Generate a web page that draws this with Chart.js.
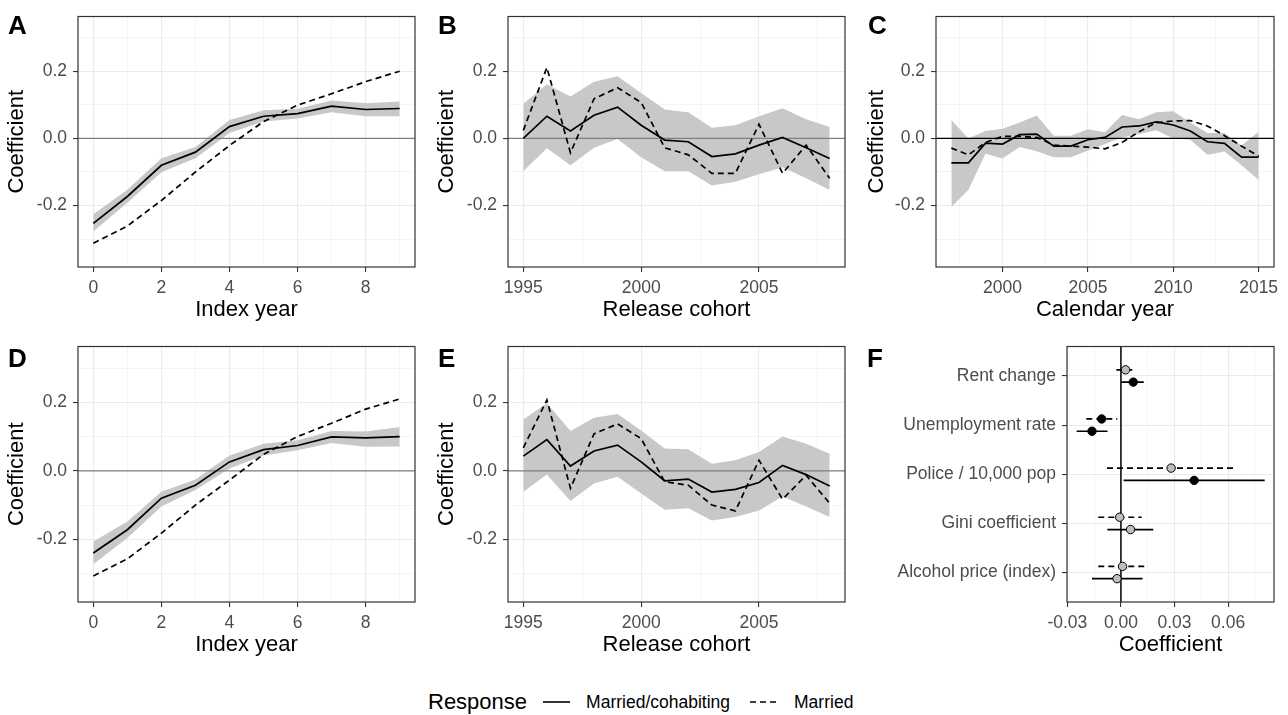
<!DOCTYPE html>
<html>
<head>
<meta charset="utf-8">
<script src="https://cdn.jsdelivr.net/npm/chart.js@4.4.1/dist/chart.umd.min.js"></script>
<style>
  body { margin: 0; background: #fff; font-family: "Liberation Sans", Arial, sans-serif; }
  #page { position: relative; width: 1288px; height: 715px; overflow: hidden; }
  canvas { position: absolute; }
  .tag { position: absolute; font-weight: bold; font-size: 26px; line-height: 26px; color: #000; }
  #legend { position: absolute; left: 428px; top: 690px; height: 24px; display: flex; align-items: center; color: #000; }
  #legend .ltitle { font-size: 22px; margin-right: 16px; }
  #legend .item { font-size: 17.5px; }
  #legend svg { display: block; }
</style>
</head>
<body>
<div id="page">
  <canvas id="chartA" width="430" height="327" style="left:0;top:0"></canvas>
  <canvas id="chartB" width="430" height="327" style="left:430px;top:0"></canvas>
  <canvas id="chartC" width="428" height="327" style="left:860px;top:0"></canvas>
  <canvas id="chartD" width="430" height="332" style="left:0;top:330px"></canvas>
  <canvas id="chartE" width="430" height="332" style="left:430px;top:330px"></canvas>
  <canvas id="chartF" width="428" height="332" style="left:860px;top:330px"></canvas>

  <div class="tag" style="left:8px;top:12px">A</div>
  <div class="tag" style="left:438px;top:12px">B</div>
  <div class="tag" style="left:868px;top:12px">C</div>
  <div class="tag" style="left:8px;top:345px">D</div>
  <div class="tag" style="left:438px;top:345px">E</div>
  <div class="tag" style="left:867px;top:345px">F</div>

  <div id="legend">
    <span class="ltitle">Response</span>
    <svg width="27" height="10" style="margin-right:16px"><line x1="0" y1="5" x2="27" y2="5" stroke="#000" stroke-width="1.6"/></svg>
    <span class="item" style="margin-right:20px">Married/cohabiting</span>
    <svg width="27" height="10" style="margin-right:17px"><line x1="0" y1="5" x2="27" y2="5" stroke="#000" stroke-width="1.6" stroke-dasharray="6 4"/></svg>
    <span class="item">Married</span>
  </div>
</div>

<script>
// ---- data ----
const indexYear = [0, 1, 2, 3, 4, 5, 6, 7, 8, 9];
const aCohab     = [-0.253, -0.173, -0.080, -0.041, 0.035, 0.066, 0.074, 0.096, 0.086, 0.089];
const aCohabLow  = [-0.277, -0.192, -0.101, -0.059, 0.016, 0.050, 0.059, 0.078, 0.066, 0.066];
const aCohabHigh = [-0.226, -0.153, -0.059, -0.026, 0.055, 0.084, 0.088, 0.113, 0.105, 0.110];
const aMarried   = [-0.312, -0.261, -0.185, -0.100, -0.021, 0.050, 0.099, 0.133, 0.169, 0.200];

const cohort = [1995, 1996, 1997, 1998, 1999, 2000, 2001, 2002, 2003, 2004, 2005, 2006, 2007, 2008];
const bCohab     = [0.000, 0.066, 0.022, 0.069, 0.093, 0.039, -0.005, -0.010, -0.054, -0.046, -0.020, 0.003, -0.028, -0.060];
const bCohabLow  = [-0.098, -0.029, -0.080, -0.028, -0.002, -0.056, -0.098, -0.098, -0.140, -0.129, -0.107, -0.086, -0.119, -0.154];
const bCohabHigh = [0.103, 0.161, 0.125, 0.169, 0.185, 0.135, 0.086, 0.078, 0.032, 0.039, 0.066, 0.090, 0.057, 0.034];
const bMarried   = [0.024, 0.211, -0.043, 0.118, 0.151, 0.107, -0.028, -0.049, -0.104, -0.104, 0.042, -0.104, -0.020, -0.119];

const calYear = [1997, 1998, 1999, 2000, 2001, 2002, 2003, 2004, 2005, 2006, 2007, 2008, 2009, 2010, 2011, 2012, 2013, 2014, 2015];
const cCohab     = [-0.073, -0.073, -0.014, -0.017, 0.011, 0.013, -0.023, -0.023, -0.004, 0.003, 0.034, 0.037, 0.049, 0.040, 0.022, -0.010, -0.015, -0.056, -0.056];
const cCohabLow  = [-0.204, -0.153, -0.046, -0.060, -0.026, -0.038, -0.056, -0.056, -0.036, -0.017, 0.003, 0.013, 0.024, 0.000, -0.004, -0.049, -0.039, -0.080, -0.124];
const cCohabHigh = [0.055, 0.000, 0.022, 0.029, 0.047, 0.068, 0.008, 0.008, 0.027, 0.018, 0.070, 0.057, 0.078, 0.081, 0.047, 0.016, 0.016, -0.021, 0.020];
const cMarried   = [-0.029, -0.049, -0.012, 0.006, 0.006, 0.003, -0.020, -0.023, -0.026, -0.031, -0.012, 0.020, 0.047, 0.052, 0.053, 0.037, 0.008, -0.023, -0.053];

const dCohab     = [-0.240, -0.172, -0.080, -0.042, 0.026, 0.062, 0.074, 0.099, 0.096, 0.100];
const dCohabLow  = [-0.273, -0.196, -0.104, -0.056, 0.007, 0.045, 0.060, 0.081, 0.070, 0.071];
const dCohabHigh = [-0.206, -0.148, -0.061, -0.025, 0.045, 0.079, 0.089, 0.116, 0.115, 0.128];
const dMarried   = [-0.307, -0.257, -0.182, -0.100, -0.027, 0.048, 0.100, 0.139, 0.180, 0.210];

const eCohab     = [0.043, 0.091, 0.014, 0.058, 0.075, 0.026, -0.029, -0.024, -0.062, -0.054, -0.034, 0.016, -0.011, -0.044];
const eCohabLow  = [-0.061, -0.011, -0.088, -0.037, -0.017, -0.066, -0.114, -0.109, -0.145, -0.135, -0.116, -0.075, -0.104, -0.135];
const eCohabHigh = [0.150, 0.197, 0.116, 0.155, 0.166, 0.118, 0.065, 0.063, 0.021, 0.031, 0.055, 0.100, 0.079, 0.050];
const eMarried   = [0.067, 0.207, -0.051, 0.108, 0.137, 0.094, -0.032, -0.042, -0.100, -0.117, 0.031, -0.083, -0.013, -0.095];

const covariates   = ['Rent change', 'Unemployment rate', 'Police / 10,000 pop', 'Gini coefficient', 'Alcohol price (index)'];
const fMarried     = [0.0026, -0.0108, 0.0281, -0.0007, 0.0009];
const fMarriedLow  = [-0.0026, -0.0194, -0.0078, -0.0127, -0.0127];
const fMarriedHigh = [0.0084, -0.0020, 0.0641, 0.0116, 0.0138];
const fCohab       = [0.0069, -0.0162, 0.0410, 0.0054, -0.0022];
const fCohabLow    = [0.0002, -0.0248, 0.0015, -0.0076, -0.0162];
const fCohabHigh   = [0.0128, -0.0075, 0.0805, 0.0181, 0.0121];

// gridlines (major ones get a label)
const yGrid  = [-0.3, -0.2, -0.1, 0, 0.1, 0.2, 0.3];
const yMajor = [-0.2, 0, 0.2];
const idxGrid = [0, 1, 2, 3, 4, 5, 6, 7, 8, 9];
const idxMajor = [0, 2, 4, 6, 8];
const cohortGrid = [1995, 1997.5, 2000, 2002.5, 2005, 2007.5];
const cohortMajor = [1995, 2000, 2005];
const calGrid = [1997.5, 2000, 2002.5, 2005, 2007.5, 2010, 2012.5, 2015];
const calMajor = [2000, 2005, 2010, 2015];
const fGrid = [-0.03, -0.015, 0, 0.015, 0.03, 0.045, 0.06, 0.075];
const fMajor = [-0.03, 0, 0.03, 0.06];

Chart.defaults.font.family = '"Liberation Sans", Arial, sans-serif';

const isIn = (v, list) => list.some(m => Math.abs(m - v) < 1e-9);

// zero reference line + panel frame
const panelDeco = {
  id: 'panelDeco',
  beforeDatasetsDraw(chart, args, opts) { if (opts.after < 0) zeroLine(chart, opts); },
  afterDatasetDraw(chart, args, opts) { if (args.index === opts.after) zeroLine(chart, opts); },
  afterDraw(chart) {
    const {ctx, chartArea: a} = chart;
    ctx.save();
    ctx.strokeStyle = '#333333';
    ctx.lineWidth = 1.2;
    ctx.strokeRect(a.left, a.top, a.right - a.left, a.bottom - a.top);
    ctx.restore();
  }
};

function zeroLine(chart, opts) {
  const {ctx, chartArea: a, scales} = chart;
  ctx.save();
  ctx.strokeStyle = opts.color;
  ctx.lineWidth = opts.width;
  ctx.beginPath();
  if (opts.axis === 'y') {
    const py = scales.y.getPixelForValue(0);
    ctx.moveTo(a.left, py); ctx.lineTo(a.right, py);
  } else {
    const px = scales.x.getPixelForValue(0);
    ctx.moveTo(px, a.top); ctx.lineTo(px, a.bottom);
  }
  ctx.stroke();
  ctx.restore();
}

function axis(o) {
  const horiz = o.pos === 'bottom';
  return {
    type: 'linear',
    position: o.pos,
    min: o.min, max: o.max,
    reverse: !!o.reverse,
    afterBuildTicks: s => { s.ticks = o.grid.map(v => ({value: v})); },
    afterFit: s => { if (horiz) s.height = o.size; else s.width = o.size; },
    border: {display: false},
    grid: {
      color: '#EBEBEB',
      lineWidth: c => (c.tick && isIn(c.tick.value, o.major)) ? 1.1 : 0.55,
      tickColor: c => (c.tick && isIn(c.tick.value, o.major)) ? '#333333' : 'rgba(0,0,0,0)',
      tickLength: 5,
      tickWidth: 1.1
    },
    ticks: {
      autoSkip: false, maxRotation: 0, minRotation: 0,
      padding: horiz ? 6 : 6,
      color: '#4D4D4D',
      font: {size: 17.5},
      callback: v => isIn(v, o.major) ? o.fmt(v) : ''
    },
    title: o.title
      ? {display: true, text: o.title, color: '#000', font: {size: 22}, padding: 4}
      : {display: false}
  };
}

function linePanel(id, x, cohab, low, high, married, xAx, yWidth, pad, zero) {
  const pts = ys => x.map((v, i) => ({x: v, y: ys[i]}));
  new Chart(document.getElementById(id), {
    type: 'line',
    data: {
      datasets: [
        {label: 'Married/cohabiting', data: pts(cohab), borderColor: '#000', borderWidth: 1.7},
        {label: 'Married', data: pts(married), borderColor: '#000', borderWidth: 1.7, borderDash: [6, 4]},
        {label: 'upper', data: pts(high), borderColor: 'rgba(0,0,0,0)', borderWidth: 0},
        {label: 'lower', data: pts(low), borderColor: 'rgba(0,0,0,0)', borderWidth: 0,
         fill: '-1', backgroundColor: '#C8C8C8'}
      ]
    },
    options: {
      responsive: false,
      animation: false,
      layout: {padding: {top: pad.top, right: pad.right, left: 0, bottom: 0}, autoPadding: false},
      elements: {point: {radius: 0, hoverRadius: 0}, line: {tension: 0}},
      plugins: {
        legend: {display: false},
        tooltip: {enabled: false},
        panelDeco: {axis: 'y', color: zero, width: 1.2, after: 2}
      },
      scales: {
        x: axis(xAx),
        y: axis({pos: 'left', min: -0.383, max: 0.363, grid: yGrid, major: yMajor,
                 fmt: v => v.toFixed(1), title: 'Coefficient', size: yWidth})
      }
    },
    plugins: [panelDeco]
  });
}

const idxAxis = {pos: 'bottom', min: -0.45, max: 9.45, grid: idxGrid, major: idxMajor,
                 fmt: v => String(v), title: 'Index year', size: 60};
const cohortAxis = {pos: 'bottom', min: 1994.35, max: 2008.65, grid: cohortGrid, major: cohortMajor,
                    fmt: v => String(v), title: 'Release cohort', size: 60};
const calAxis = {pos: 'bottom', min: 1996.1, max: 2015.9, grid: calGrid, major: calMajor,
                 fmt: v => String(v), title: 'Calendar year', size: 60};

linePanel('chartA', indexYear, aCohab, aCohabLow, aCohabHigh, aMarried, idxAxis, 78, {top: 12, right: 15}, '#7F7F7F');
linePanel('chartB', cohort, bCohab, bCohabLow, bCohabHigh, bMarried, cohortAxis, 78, {top: 12, right: 15}, '#7F7F7F');
linePanel('chartC', calYear, cCohab, cCohabLow, cCohabHigh, cMarried, calAxis, 76, {top: 12, right: 14}, '#000');
linePanel('chartD', indexYear, dCohab, dCohabLow, dCohabHigh, dMarried, idxAxis, 78, {top: 15, right: 15}, '#7F7F7F');
linePanel('chartE', cohort, eCohab, eCohabLow, eCohabHigh, eMarried, cohortAxis, 78, {top: 15, right: 15}, '#7F7F7F');

// panel F: dodged point ranges
const dodge = 0.125;
const sig = (lo, hi) => (lo > 0 || hi < 0) ? '#000000' : '#BEBEBE';
const fDatasets = [
  {label: 'Married', data: fMarried.map((v, i) => ({x: v, y: i - dodge})), showLine: false,
   pointRadius: 4.2, pointBorderColor: '#000', pointBorderWidth: 1,
   pointBackgroundColor: fMarried.map((v, i) => sig(fMarriedLow[i], fMarriedHigh[i]))},
  {label: 'Married/cohabiting', data: fCohab.map((v, i) => ({x: v, y: i + dodge})), showLine: false,
   pointRadius: 4.2, pointBorderColor: '#000', pointBorderWidth: 1,
   pointBackgroundColor: fCohab.map((v, i) => sig(fCohabLow[i], fCohabHigh[i]))}
];
covariates.forEach((name, i) => {
  fDatasets.push({label: name + ' married', showLine: true, pointRadius: 0, borderColor: '#000',
    borderWidth: 1.7, borderDash: [6, 4],
    data: [{x: fMarriedLow[i], y: i - dodge}, {x: fMarriedHigh[i], y: i - dodge}]});
  fDatasets.push({label: name + ' cohab', showLine: true, pointRadius: 0, borderColor: '#000',
    borderWidth: 1.7,
    data: [{x: fCohabLow[i], y: i + dodge}, {x: fCohabHigh[i], y: i + dodge}]});
});

new Chart(document.getElementById('chartF'), {
  type: 'scatter',
  data: {datasets: fDatasets},
  options: {
    responsive: false,
    animation: false,
    layout: {padding: {top: 15, right: 14, left: 0, bottom: 0}, autoPadding: false},
    elements: {point: {hoverRadius: 4.2}},
    plugins: {
      legend: {display: false},
      tooltip: {enabled: false},
      panelDeco: {axis: 'x', color: '#000', width: 1.5, after: -1}
    },
    scales: {
      x: axis({pos: 'bottom', min: -0.0302, max: 0.0857, grid: fGrid, major: fMajor,
               fmt: v => v.toFixed(2), title: 'Coefficient', size: 60}),
      y: axis({pos: 'left', min: -0.6, max: 4.6, reverse: true,
               grid: covariates.map((c, i) => i), major: covariates.map((c, i) => i),
               fmt: v => covariates[Math.round(v)], size: 207})
    }
  },
  plugins: [panelDeco]
});
</script>
</body>
</html>
